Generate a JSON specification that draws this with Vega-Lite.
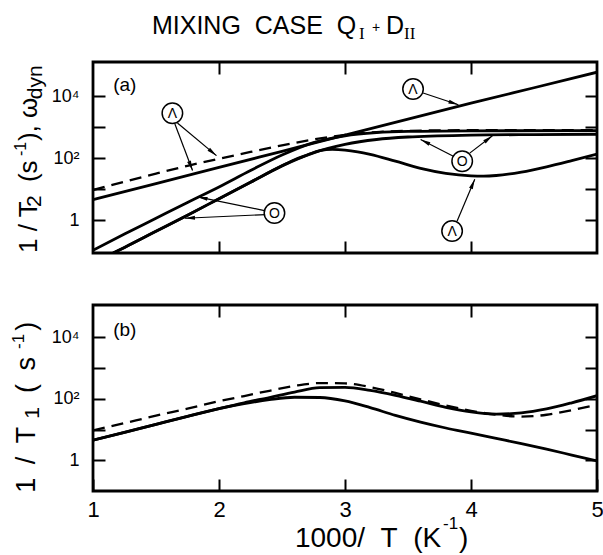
{
  "$schema": "https://vega.github.io/schema/vega-lite/v6.json",
  "padding": {"left": 8, "top": 12, "right": 0, "bottom": 0},
  "bounds": "flush",
  "spacing": 52,
  "config": {
    "font": "Liberation Sans",
    "view": {"stroke": "black", "strokeWidth": 2.8},
    "axis": {"domain": false, "grid": false, "tickColor": "black", "tickWidth": 2, "labelColor": "black", "labelFont": "Liberation Sans", "labelFlush": false, "labelOverlap": false, "labelBound": false}
  },
  "datasets": {
    "curves": [
      {"p":"a","s":"S1","x":1,"y":4.57},{"p":"a","s":"S1","x":1.5,"y":15.1},{"p":"a","s":"S1","x":2,"y":50.1},{"p":"a","s":"S1","x":2.5,"y":166},{"p":"a","s":"S1","x":3,"y":550},{"p":"a","s":"S1","x":3.5,"y":1820},{"p":"a","s":"S1","x":4,"y":5890},{"p":"a","s":"S1","x":4.5,"y":18620},{"p":"a","s":"S1","x":5,"y":58880},
      {"p":"a","s":"D","x":1,"y":9.33},{"p":"a","s":"D","x":1.25,"y":17.4},{"p":"a","s":"D","x":1.5,"y":31.6},{"p":"a","s":"D","x":1.75,"y":56.2},{"p":"a","s":"D","x":2,"y":95.5},{"p":"a","s":"D","x":2.25,"y":158},{"p":"a","s":"D","x":2.5,"y":257},{"p":"a","s":"D","x":2.75,"y":398},{"p":"a","s":"D","x":3,"y":562},{"p":"a","s":"D","x":3.25,"y":692},{"p":"a","s":"D","x":3.5,"y":759},{"p":"a","s":"D","x":4,"y":794},{"p":"a","s":"D","x":5,"y":794},
      {"p":"a","s":"O1","x":1,"y":0.107},{"p":"a","s":"O1","x":1.25,"y":0.355},{"p":"a","s":"O1","x":1.5,"y":1.148},{"p":"a","s":"O1","x":1.75,"y":3.715},{"p":"a","s":"O1","x":2,"y":11.75},{"p":"a","s":"O1","x":2.25,"y":39.8},{"p":"a","s":"O1","x":2.5,"y":126},{"p":"a","s":"O1","x":2.75,"y":316},{"p":"a","s":"O1","x":3,"y":525},{"p":"a","s":"O1","x":3.25,"y":661},{"p":"a","s":"O1","x":3.5,"y":724},{"p":"a","s":"O1","x":4,"y":759},{"p":"a","s":"O1","x":5,"y":776},
      {"p":"a","s":"O2","x":1.16,"y":0.087},{"p":"a","s":"O2","x":1.25,"y":0.132},{"p":"a","s":"O2","x":1.5,"y":0.437},{"p":"a","s":"O2","x":1.75,"y":1.445},{"p":"a","s":"O2","x":2,"y":4.9},{"p":"a","s":"O2","x":2.25,"y":16.6},{"p":"a","s":"O2","x":2.5,"y":56.2},{"p":"a","s":"O2","x":2.75,"y":148},{"p":"a","s":"O2","x":3,"y":275},{"p":"a","s":"O2","x":3.25,"y":398},{"p":"a","s":"O2","x":3.5,"y":479},{"p":"a","s":"O2","x":4,"y":550},{"p":"a","s":"O2","x":4.5,"y":575},{"p":"a","s":"O2","x":5,"y":589},
      {"p":"a","s":"L2","x":1.16,"y":0.087},{"p":"a","s":"L2","x":1.25,"y":0.132},{"p":"a","s":"L2","x":1.5,"y":0.437},{"p":"a","s":"L2","x":1.75,"y":1.445},{"p":"a","s":"L2","x":2,"y":4.9},{"p":"a","s":"L2","x":2.25,"y":16.6},{"p":"a","s":"L2","x":2.5,"y":56.2},{"p":"a","s":"L2","x":2.6,"y":89.1},{"p":"a","s":"L2","x":2.7,"y":126},{"p":"a","s":"L2","x":2.8,"y":174},{"p":"a","s":"L2","x":2.9,"y":191},{"p":"a","s":"L2","x":3.0,"y":182},{"p":"a","s":"L2","x":3.1,"y":160},{"p":"a","s":"L2","x":3.2,"y":132},{"p":"a","s":"L2","x":3.4,"y":79.4},{"p":"a","s":"L2","x":3.6,"y":46.8},{"p":"a","s":"L2","x":3.8,"y":32.4},{"p":"a","s":"L2","x":4.0,"y":26.9},{"p":"a","s":"L2","x":4.1,"y":26.3},{"p":"a","s":"L2","x":4.2,"y":27.5},{"p":"a","s":"L2","x":4.4,"y":35.5},{"p":"a","s":"L2","x":4.6,"y":52.5},{"p":"a","s":"L2","x":4.8,"y":83.2},{"p":"a","s":"L2","x":5.0,"y":135},
      {"p":"b","s":"D","x":1,"y":9.33},{"p":"b","s":"D","x":1.25,"y":16.2},{"p":"b","s":"D","x":1.5,"y":28.2},{"p":"b","s":"D","x":1.75,"y":47.9},{"p":"b","s":"D","x":2,"y":83.2},{"p":"b","s":"D","x":2.2,"y":123},{"p":"b","s":"D","x":2.4,"y":182},{"p":"b","s":"D","x":2.6,"y":263},{"p":"b","s":"D","x":2.8,"y":324},{"p":"b","s":"D","x":3.0,"y":316},{"p":"b","s":"D","x":3.2,"y":240},{"p":"b","s":"D","x":3.4,"y":155},{"p":"b","s":"D","x":3.6,"y":95.5},{"p":"b","s":"D","x":3.8,"y":60.3},{"p":"b","s":"D","x":4.0,"y":40.7},{"p":"b","s":"D","x":4.2,"y":30.2},{"p":"b","s":"D","x":4.4,"y":26.3},{"p":"b","s":"D","x":4.6,"y":30.2},{"p":"b","s":"D","x":4.8,"y":42.7},{"p":"b","s":"D","x":5.0,"y":63.1},
      {"p":"b","s":"U","x":1,"y":4.47},{"p":"b","s":"U","x":1.25,"y":8.13},{"p":"b","s":"U","x":1.5,"y":14.8},{"p":"b","s":"U","x":1.75,"y":26.9},{"p":"b","s":"U","x":2,"y":47.9},{"p":"b","s":"U","x":2.2,"y":74.1},{"p":"b","s":"U","x":2.4,"y":110},{"p":"b","s":"U","x":2.6,"y":166},{"p":"b","s":"U","x":2.8,"y":229},{"p":"b","s":"U","x":3.0,"y":234},{"p":"b","s":"U","x":3.2,"y":186},{"p":"b","s":"U","x":3.4,"y":129},{"p":"b","s":"U","x":3.6,"y":83.2},{"p":"b","s":"U","x":3.8,"y":52.5},{"p":"b","s":"U","x":4.0,"y":37.2},{"p":"b","s":"U","x":4.2,"y":31.6},{"p":"b","s":"U","x":4.4,"y":34.7},{"p":"b","s":"U","x":4.6,"y":46.8},{"p":"b","s":"U","x":4.8,"y":74.1},{"p":"b","s":"U","x":5.0,"y":126},
      {"p":"b","s":"L","x":1,"y":4.47},{"p":"b","s":"L","x":1.25,"y":8.13},{"p":"b","s":"L","x":1.5,"y":14.8},{"p":"b","s":"L","x":1.75,"y":26.9},{"p":"b","s":"L","x":2,"y":47.9},{"p":"b","s":"L","x":2.2,"y":69.2},{"p":"b","s":"L","x":2.4,"y":93.3},{"p":"b","s":"L","x":2.6,"y":112},{"p":"b","s":"L","x":2.8,"y":110},{"p":"b","s":"L","x":3.0,"y":85.1},{"p":"b","s":"L","x":3.2,"y":51.3},{"p":"b","s":"L","x":3.4,"y":28.8},{"p":"b","s":"L","x":3.6,"y":17.4},{"p":"b","s":"L","x":3.8,"y":11.2},{"p":"b","s":"L","x":4.0,"y":7.59},{"p":"b","s":"L","x":4.2,"y":5.13},{"p":"b","s":"L","x":4.4,"y":3.47},{"p":"b","s":"L","x":4.6,"y":2.29},{"p":"b","s":"L","x":4.8,"y":1.48},{"p":"b","s":"L","x":5.0,"y":0.955}
    ],
    "arrows": [
      {"x":1.67,"y":1349,"x2":1.98,"y2":120},
      {"x":1.65,"y":1259,"x2":1.79,"y2":39.8},
      {"x":2.37,"y":2.0,"x2":1.83,"y2":5.62},
      {"x":2.37,"y":1.51,"x2":1.73,"y2":1.15},
      {"x":3.62,"y":12590,"x2":3.9,"y2":5250},
      {"x":3.86,"y":115,"x2":3.6,"y2":398},
      {"x":3.99,"y":145,"x2":4.17,"y2":525},
      {"x":3.89,"y":0.933,"x2":4.03,"y2":20.9}
    ],
    "circles": [
      {"x":1.63,"y":2818,"t":"Λ"},
      {"x":2.44,"y":1.7,"t":"O"},
      {"x":3.54,"y":16980,"t":"Λ"},
      {"x":3.93,"y":79.4,"t":"O"},
      {"x":3.85,"y":0.447,"t":"Λ"}
    ],
    "texts": [
      {"p":"a","k":"title","x":1.468,"y":1000000,"t":"MIXING\u00a0\u00a0CASE\u00a0\u00a0Q"},
      {"p":"a","k":"titlesub","x":3.111,"y":692000,"t":"I"},
      {"p":"a","k":"plus","x":3.214,"y":1170000,"t":"+"},
      {"p":"a","k":"title","x":3.325,"y":1000000,"t":"D"},
      {"p":"a","k":"titlesub","x":3.468,"y":692000,"t":"II"},
      {"p":"a","k":"lab","x":1.16,"y":14450,"t":"(a)"},
      {"p":"b","k":"lab","x":1.16,"y":10700,"t":"(b)"},
      {"p":"a","k":"yt","x":0.556,"y":0.087,"t":"1 / T"},
      {"p":"a","k":"ysub","x":0.587,"y":2.65,"t":"2"},
      {"p":"a","k":"yt","x":0.556,"y":16.9,"t":"(s"},
      {"p":"a","k":"ysup","x":0.468,"y":117,"t":"-1"},
      {"p":"a","k":"yt","x":0.556,"y":355,"t":"), ω"},
      {"p":"a","k":"ysub","x":0.595,"y":7940,"t":"dyn"},
      {"p":"b","k":"yt","x":0.54,"y":0.087,"t":"1\u2002/\u2002T"},
      {"p":"b","k":"ysub","x":0.571,"y":22.4,"t":"1"},
      {"p":"b","k":"yt","x":0.54,"y":155,"t":"(\u2002s"},
      {"p":"b","k":"ysup","x":0.452,"y":4170,"t":"-1"},
      {"p":"b","k":"yt","x":0.54,"y":16200,"t":")"},
      {"p":"b","k":"xt","x":2.603,"y":0.00151,"t":"1000/\u00a0\u00a0T\u00a0\u00a0(K"},
      {"p":"b","k":"xsup","x":3.778,"y":0.00586,"t":"-1"},
      {"p":"b","k":"xt","x":3.905,"y":0.00151,"t":")"}
    ]
  },
  "vconcat": [
    {
      "width": 504,
      "height": 191,
      "encoding": {
        "x": {"field": "x", "type": "quantitative", "scale": {"domain": [1, 5], "nice": false, "zero": false}, "axis": null},
        "y": {"field": "y", "type": "quantitative", "scale": {"type": "log", "domain": [0.087, 125900], "nice": false}, "axis": null}
      },
      "resolve": {"axis": {"x": "independent", "y": "independent"}},
      "layer": [
        {
          "data": {"name": "curves"},
          "transform": [{"filter": "datum.p == 'a' && datum.s != 'D'"}],
          "mark": {"type": "line", "color": "black", "strokeWidth": 2.8, "interpolate": "monotone", "clip": true},
          "encoding": {
            "x": {"field": "x", "type": "quantitative", "scale": {"domain": [1, 5], "nice": false, "zero": false},
                  "axis": {"orient": "bottom", "values": [2, 3, 4], "labels": false, "offset": -12, "tickSize": 12, "title": null}},
            "y": {"field": "y", "type": "quantitative", "scale": {"type": "log", "domain": [0.087, 125900], "nice": false},
                  "axis": {"orient": "left", "values": [1, 10, 100, 1000, 10000], "labelExpr": "datum.value == 1 ? '1' : datum.value == 100 ? '10²' : datum.value == 10000 ? '10⁴' : ''", "offset": -12, "tickSize": 12, "labelPadding": 14, "labelFontSize": 18, "title": null}},
            "detail": {"field": "s"}
          }
        },
        {
          "data": {"name": "curves"},
          "transform": [{"filter": "datum.p == 'a' && datum.s == 'D'"}],
          "mark": {"type": "line", "color": "black", "strokeWidth": 2.3, "strokeDash": [12, 7], "interpolate": "monotone", "clip": true},
          "encoding": {"detail": {"field": "s"}}
        },
        {
          "data": {"name": "arrows"},
          "mark": {"type": "rule", "color": "black", "strokeWidth": 1.2},
          "encoding": {"x2": {"field": "x2"}, "y2": {"field": "y2"}}
        },
        {
          "data": {"name": "arrows"},
          "transform": [{"calculate": "atan2((datum.x2 - datum.x) * 126, (log(datum.y2) - log(datum.y)) / LN10 * 31) * 180 / PI", "as": "ang"}],
          "mark": {"type": "point", "shape": "M0,0L-0.4,2L0.4,2Z", "filled": true, "color": "black", "size": 100, "opacity": 1},
          "encoding": {
            "x": {"field": "x2", "type": "quantitative", "scale": {"domain": [1, 5], "nice": false, "zero": false}, "axis": null},
            "y": {"field": "y2", "type": "quantitative", "scale": {"type": "log", "domain": [0.087, 125900], "nice": false}, "axis": null},
            "angle": {"field": "ang", "type": "quantitative", "scale": null}
          }
        },
        {
          "data": {"name": "circles"},
          "mark": {"type": "point", "shape": "circle", "size": 420, "fill": "white", "stroke": "black", "strokeWidth": 1.5, "opacity": 1},
          "encoding": {
            "x": {"field": "x", "type": "quantitative", "scale": {"domain": [1, 5], "nice": false, "zero": false},
                  "axis": {"orient": "top", "values": [2, 3, 4], "labels": false, "offset": -12, "tickSize": 12, "title": null}},
            "y": {"field": "y", "type": "quantitative", "scale": {"type": "log", "domain": [0.087, 125900], "nice": false},
                  "axis": {"orient": "right", "values": [1, 10, 100, 1000, 10000], "labels": false, "offset": -12, "tickSize": 12, "title": null}}
          }
        },
        {
          "data": {"name": "circles"},
          "mark": {"type": "text", "fontSize": 14, "align": "center", "baseline": "middle", "color": "black", "dy": 1},
          "encoding": {"text": {"field": "t"}}
        },
        {
          "data": {"name": "texts"},
          "transform": [{"filter": "datum.p == 'a' && datum.k == 'title'"}],
          "mark": {"type": "text", "fontSize": 25, "align": "left", "baseline": "alphabetic", "color": "black"},
          "encoding": {"text": {"field": "t"}}
        },
        {
          "data": {"name": "texts"},
          "transform": [{"filter": "datum.p == 'a' && datum.k == 'titlesub'"}],
          "mark": {"type": "text", "fontSize": 17, "font": "Liberation Serif", "align": "left", "baseline": "alphabetic", "color": "black"},
          "encoding": {"text": {"field": "t"}}
        },
        {
          "data": {"name": "texts"},
          "transform": [{"filter": "datum.p == 'a' && datum.k == 'plus'"}],
          "mark": {"type": "text", "fontSize": 14, "align": "left", "baseline": "alphabetic", "color": "black"},
          "encoding": {"text": {"field": "t"}}
        },
        {
          "data": {"name": "texts"},
          "transform": [{"filter": "datum.p == 'a' && datum.k == 'lab'"}],
          "mark": {"type": "text", "fontSize": 19, "align": "left", "baseline": "alphabetic", "color": "black"},
          "encoding": {"text": {"field": "t"}}
        },
        {
          "data": {"name": "texts"},
          "transform": [{"filter": "datum.p == 'a' && datum.k == 'yt'"}],
          "mark": {"type": "text", "fontSize": 26, "angle": 270, "align": "left", "baseline": "alphabetic", "color": "black"},
          "encoding": {"text": {"field": "t"}}
        },
        {
          "data": {"name": "texts"},
          "transform": [{"filter": "datum.p == 'a' && datum.k == 'ysub'"}],
          "mark": {"type": "text", "fontSize": 21, "angle": 270, "align": "left", "baseline": "alphabetic", "color": "black"},
          "encoding": {"text": {"field": "t"}}
        },
        {
          "data": {"name": "texts"},
          "transform": [{"filter": "datum.p == 'a' && datum.k == 'ysup'"}],
          "mark": {"type": "text", "fontSize": 16, "angle": 270, "align": "left", "baseline": "alphabetic", "color": "black"},
          "encoding": {"text": {"field": "t"}}
        }
      ]
    },
    {
      "width": 504,
      "height": 186,
      "encoding": {
        "x": {"field": "x", "type": "quantitative", "scale": {"domain": [1, 5], "nice": false, "zero": false}, "axis": null},
        "y": {"field": "y", "type": "quantitative", "scale": {"type": "log", "domain": [0.1, 112200], "nice": false}, "axis": null}
      },
      "resolve": {"axis": {"x": "independent", "y": "independent"}},
      "layer": [
        {
          "data": {"name": "curves"},
          "transform": [{"filter": "datum.p == 'b' && datum.s != 'D'"}],
          "mark": {"type": "line", "color": "black", "strokeWidth": 2.8, "interpolate": "monotone", "clip": true},
          "encoding": {
            "x": {"field": "x", "type": "quantitative", "scale": {"domain": [1, 5], "nice": false, "zero": false},
                  "axis": {"orient": "bottom", "values": [1, 2, 3, 4, 5], "offset": -12, "tickSize": 12, "labelPadding": 8, "labelFontSize": 22, "title": null}},
            "y": {"field": "y", "type": "quantitative", "scale": {"type": "log", "domain": [0.1, 112200], "nice": false},
                  "axis": {"orient": "left", "values": [1, 10, 100, 1000, 10000], "labelExpr": "datum.value == 1 ? '1' : datum.value == 100 ? '10²' : datum.value == 10000 ? '10⁴' : ''", "offset": -12, "tickSize": 12, "labelPadding": 14, "labelFontSize": 18, "title": null}},
            "detail": {"field": "s"}
          }
        },
        {
          "data": {"name": "curves"},
          "transform": [{"filter": "datum.p == 'b' && datum.s == 'D'"}],
          "mark": {"type": "line", "color": "black", "strokeWidth": 2.3, "strokeDash": [12, 7], "interpolate": "monotone", "clip": true},
          "encoding": {"detail": {"field": "s"}}
        },
        {
          "data": {"name": "texts"},
          "transform": [{"filter": "datum.p == 'b' && datum.k == 'lab'"}],
          "mark": {"type": "text", "fontSize": 19, "align": "left", "baseline": "alphabetic", "color": "black"},
          "encoding": {
            "x": {"field": "x", "type": "quantitative", "scale": {"domain": [1, 5], "nice": false, "zero": false},
                  "axis": {"orient": "top", "values": [2, 3, 4], "labels": false, "offset": -12, "tickSize": 12, "title": null}},
            "y": {"field": "y", "type": "quantitative", "scale": {"type": "log", "domain": [0.1, 112200], "nice": false},
                  "axis": {"orient": "right", "values": [1, 10, 100, 1000, 10000], "labels": false, "offset": -12, "tickSize": 12, "title": null}},
            "text": {"field": "t"}
          }
        },
        {
          "data": {"name": "texts"},
          "transform": [{"filter": "datum.p == 'b' && datum.k == 'yt'"}],
          "mark": {"type": "text", "fontSize": 27, "angle": 270, "align": "left", "baseline": "alphabetic", "color": "black"},
          "encoding": {"text": {"field": "t"}}
        },
        {
          "data": {"name": "texts"},
          "transform": [{"filter": "datum.p == 'b' && datum.k == 'ysub'"}],
          "mark": {"type": "text", "fontSize": 21, "angle": 270, "align": "left", "baseline": "alphabetic", "color": "black"},
          "encoding": {"text": {"field": "t"}}
        },
        {
          "data": {"name": "texts"},
          "transform": [{"filter": "datum.p == 'b' && datum.k == 'ysup'"}],
          "mark": {"type": "text", "fontSize": 17, "angle": 270, "align": "left", "baseline": "alphabetic", "color": "black"},
          "encoding": {"text": {"field": "t"}}
        },
        {
          "data": {"name": "texts"},
          "transform": [{"filter": "datum.p == 'b' && datum.k == 'xt'"}],
          "mark": {"type": "text", "fontSize": 28, "align": "left", "baseline": "alphabetic", "color": "black"},
          "encoding": {"text": {"field": "t"}}
        },
        {
          "data": {"name": "texts"},
          "transform": [{"filter": "datum.p == 'b' && datum.k == 'xsup'"}],
          "mark": {"type": "text", "fontSize": 17, "align": "left", "baseline": "alphabetic", "color": "black"},
          "encoding": {"text": {"field": "t"}}
        }
      ]
    }
  ]
}
